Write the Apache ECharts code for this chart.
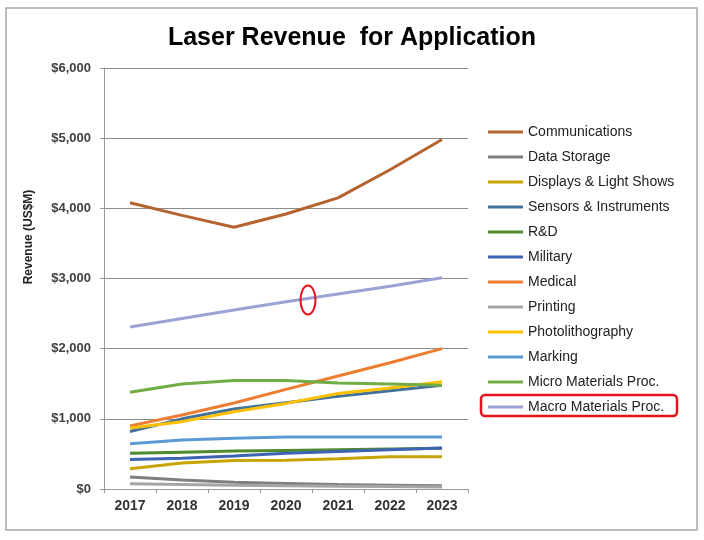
<!DOCTYPE html>
<html>
<head>
<meta charset="utf-8">
<script src="https://cdn.jsdelivr.net/npm/echarts@6/dist/echarts.min.js"></script>
<style>html,body{margin:0;padding:0;background:#fff;}#c{width:704px;height:540px;}</style>
</head>
<body>
<div id="c"></div>
<script>
const years = ['2017','2018','2019','2020','2021','2022','2023'];
const yTicks = [0, 1000, 2000, 3000, 4000, 5000, 6000];
const seriesNames = ['Communications','Data Storage','Displays & Light Shows','Sensors & Instruments','R&D','Military','Medical','Printing','Photolithography','Marking','Micro Materials Proc.','Macro Materials Proc.'];
const communications = [4080, 3900, 3730, 3920, 4150, 4550, 4980];
const dataStorage = [170, 130, 95, 80, 65, 55, 45];
const displays = [290, 370, 405, 410, 430, 460, 460];
const sensors = [820, 1000, 1140, 1230, 1320, 1400, 1480];
const rnd = [510, 525, 540, 550, 560, 570, 580];
const military = [420, 440, 470, 510, 535, 560, 585];
const medical = [900, 1055, 1225, 1420, 1610, 1800, 2000];
const printing = [75, 65, 55, 45, 40, 35, 30];
const photolithography = [870, 960, 1100, 1220, 1360, 1440, 1530];
const marking = [645, 700, 725, 740, 740, 740, 740];
const microMaterials = [1380, 1495, 1545, 1545, 1510, 1495, 1480];
const macroMaterials = [2310, 2430, 2550, 2670, 2780, 2890, 3010];
const allValues = [communications, dataStorage, displays, sensors, rnd, military, medical, printing, photolithography, marking, microMaterials, macroMaterials];
const colors = ['#b5642f','#7f7f7f','#c8a400','#42719a','#4f8a2f','#3d63b3','#ed7d31','#a5a5a5','#ffc000','#5b9bd5','#70ad47','#9aa4d4'];

const chart = echarts.init(document.getElementById('c'), null, {renderer:'canvas'});
chart.setOption({
  backgroundColor: '#fff',
  animation: false,
  title: {
    text: 'Laser Revenue  for Application',
    left: 'center', top: 21,
    textStyle: {fontFamily: 'Liberation Sans, Arial', fontSize: 25, fontWeight: 'bold', color: '#000'}
  },
  grid: {left: 104, right: 236, top: 68, bottom: 51},
  legend: {
    orient: 'vertical', left: 483, top: 119,
    icon: 'rect', itemWidth: 35, itemHeight: 3, itemGap: 9,
    textStyle: {fontFamily: 'Liberation Sans, Arial', fontSize: 14, color: '#222', lineHeight: 16},
    data: seriesNames
  },
  xAxis: {
    type: 'category', data: years, boundaryGap: true,
    axisLine: {lineStyle: {color: '#999', width: 1}},
    axisTick: {show: true, length: 4, lineStyle: {color: '#999'}},
    axisLabel: {fontFamily: 'Liberation Sans, Arial', fontSize: 14, fontWeight: 'bold', color: '#333', margin: 10}
  },
  yAxis: {
    type: 'value', min: yTicks[0], max: yTicks[yTicks.length-1], interval: 1000,
    axisLine: {show: true, lineStyle: {color: '#999', width: 1}},
    axisTick: {show: true, length: 4, lineStyle: {color: '#999'}},
    splitLine: {lineStyle: {color: '#8c8c8c', width: 1}},
    axisLabel: {
      fontFamily: 'Liberation Sans, Arial', fontSize: 13, fontWeight: 'bold', color: '#404040', margin: 13,
      formatter: v => '$' + v.toLocaleString('en-US')
    }
  },
  series: seriesNames.map((n, i) => ({
    name: n, type: 'line', data: allValues[i],
    showSymbol: false, symbol: 'none',
    lineStyle: {width: 3, color: colors[i]},
    itemStyle: {color: colors[i]}
  })),
  graphic: [
    {type: 'rect', shape: {x: 6, y: 8, width: 691, height: 522}, style: {fill: 'none', stroke: '#a6a6a6', lineWidth: 1.5}, silent: true},
    {type: 'text', x: 29, y: 237, rotation: Math.PI/2, style: {text: 'Revenue (US$M)', fontFamily: 'Liberation Sans, Arial', fontSize: 12, fontWeight: 'bold', fill: '#222', textAlign: 'center', textVerticalAlign: 'middle'}},
    {type: 'rect', shape: {x: 481, y: 395, width: 196, height: 21, r: 4}, style: {fill: 'none', stroke: '#e3141b', lineWidth: 2.5}, z: 100},
    {type: 'ellipse', shape: {cx: 308, cy: 300, rx: 7.5, ry: 14.5}, style: {fill: 'none', stroke: '#e3141b', lineWidth: 2}, z: 100}
  ]
});
</script>
</body>
</html>
